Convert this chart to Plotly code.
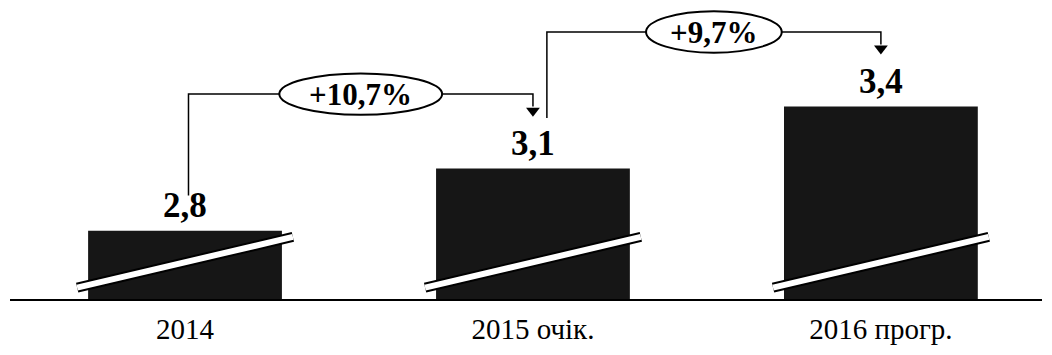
import plotly.graph_objects as go

categories = ["2014", "2015 очік.", "2016 прогр."]
values = [2.8, 3.1, 3.4]
value_labels = ["2,8", "3,1", "3,4"]
growth_labels = ["+10,7%", "+9,7%"]

SERIF = "Liberation Serif, Times New Roman, serif"
BAR_COLOR = "#161616"
Y_BASE = 2.47  # broken axis, bars start here
pos = list(range(len(categories)))

fig = go.Figure()
fig.add_trace(go.Bar(
    x=pos, y=values, width=0.557,
    marker=dict(color=BAR_COLOR, line=dict(width=0)),
    hoverinfo="skip",
))

# value labels above bars
for i, v in enumerate(values):
    fig.add_annotation(
        x=i, y=v, text="<b>%s</b>" % value_labels[i], showarrow=False,
        yanchor="bottom", yshift=4,
        font=dict(family=SERIF, size=35, color="black"),
    )

# white diagonal "axis break" stripe across each bar
for i in pos:
    for color, w in (("black", 10), ("white", 6)):
        fig.add_shape(
            type="line", xref="x", yref="y",
            x0=i - 0.31, y0=Y_BASE + 0.055, x1=i + 0.31, y1=Y_BASE + 0.3,
            line=dict(color=color, width=w), layer="above",
        )

# growth connectors with ellipse labels
starts = [(0.01, 0.17), (0.04, 0.245)]  # x offset, y offset above start bar
for k, label in enumerate(growth_labels):
    xa = k + starts[k][0]
    xb = k + 1
    ya = values[k] + starts[k][1]
    top = values[k + 1] + 0.36
    tip = values[k + 1] + 0.25
    fig.add_trace(go.Scatter(
        x=[xa, xa, xb, xb], y=[ya, top, top, tip + 0.05],
        mode="lines", line=dict(color="black", width=1.5),
        hoverinfo="skip",
    ))
    fig.add_trace(go.Scatter(
        x=[xb], y=[tip + 0.03], mode="markers",
        marker=dict(symbol="triangle-down", size=12, color="black"),
        hoverinfo="skip",
    ))
    xc = (xa + xb) / 2
    hw = 0.039 * len(label)
    fig.add_shape(
        type="circle", xref="x", yref="y",
        x0=xc - hw, x1=xc + hw, y0=top - 0.1, y1=top + 0.1,
        line=dict(color="black", width=2), fillcolor="white", layer="above",
    )
    fig.add_annotation(
        x=xc, y=top, text="<b>%s</b>" % label, showarrow=False,
        font=dict(family=SERIF, size=31, color="black"),
    )

# page body keeps an 8px margin, so the figure is sized to fit inside the window
fig.update_layout(
    width=1044, height=347,
    margin=dict(l=2, r=10, t=0, b=56),
    paper_bgcolor="white", plot_bgcolor="white",
    showlegend=False,
    xaxis=dict(
        range=[-0.503, 2.463], tickvals=pos, ticktext=categories,
        showgrid=False, zeroline=False, showline=True,
        linecolor="black", linewidth=2, ticks="", ticklabelstandoff=3,
        tickfont=dict(family=SERIF, size=29, color="black"),
    ),
    yaxis=dict(
        range=[Y_BASE, 3.876], visible=False, showgrid=False,
    ),
)

fig.write_html("out.html")
